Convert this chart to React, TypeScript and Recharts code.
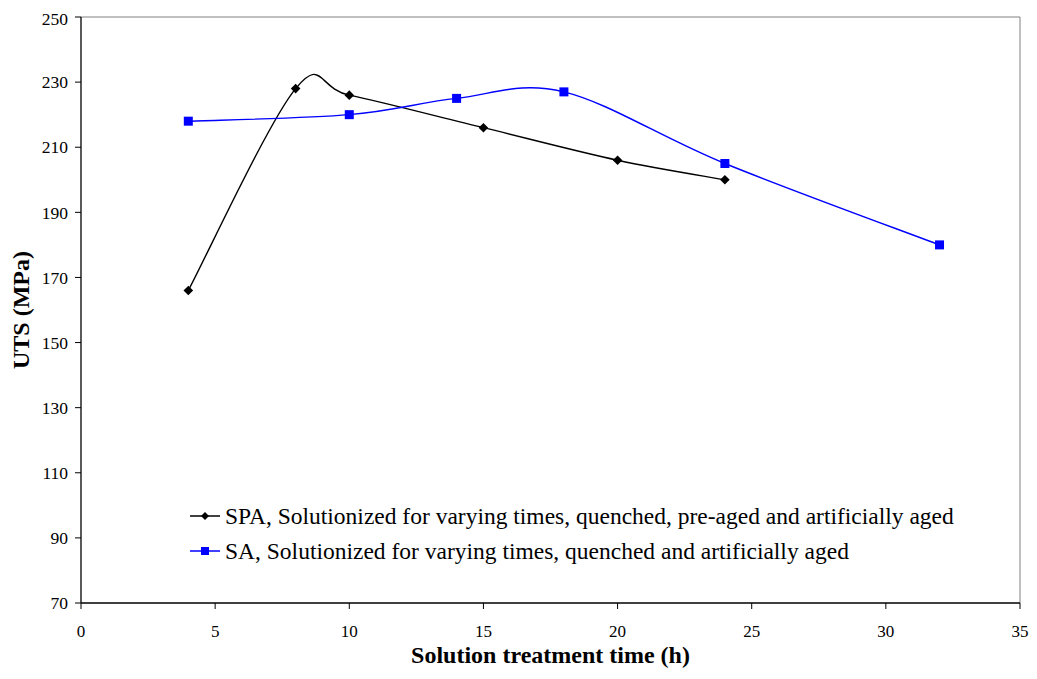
import React from 'react';
import { LineChart, Line, XAxis, YAxis, ReferenceLine, Legend } from 'recharts';

const spaTimes = [4, 8, 10, 15, 20, 24];
const spaUTS = [166, 228, 226, 216, 206, 200];
const saTimes = [4, 10, 14, 18, 24, 32];
const saUTS = [218, 220, 225, 227, 205, 180];
const xTicks = [0, 5, 10, 15, 20, 25, 30, 35];
const yTicks = [70, 90, 110, 130, 150, 170, 190, 210, 230, 250];
const spaName = 'SPA, Solutionized for varying times, quenched, pre-aged and artificially aged';
const saName = 'SA, Solutionized for varying times, quenched and artificially aged';

const spaData = spaTimes.map((t, i) => ({ x: t, y: spaUTS[i] }));
const saData = saTimes.map((t, i) => ({ x: t, y: saUTS[i] }));

const FONT = '"Liberation Serif", "Times New Roman", serif';

// Excel-like smoothing (Catmull-Rom style Bezier in pixel space)
function excelCurve(context: any) {
  let pts: number[][] = [];
  return {
    areaStart() {},
    areaEnd() {},
    lineStart() {
      pts = [];
    },
    point(x: number, y: number) {
      pts.push([+x, +y]);
    },
    lineEnd() {
      if (!pts.length) return;
      context.moveTo(pts[0][0], pts[0][1]);
      for (let i = 0; i < pts.length - 1; i++) {
        const p0 = pts[i - 1] || pts[i];
        const p1 = pts[i];
        const p2 = pts[i + 1];
        const p3 = pts[i + 2] || p2;
        const c1x = p1[0] + (p2[0] - p0[0]) / 6;
        const c1y = p1[1] + (p2[1] - p0[1]) / 6;
        const c2x = p2[0] - (p3[0] - p1[0]) / 6;
        const c2y = p2[1] - (p3[1] - p1[1]) / 6;
        context.bezierCurveTo(c1x, c1y, c2x, c2y, p2[0], p2[1]);
      }
    },
  };
}

const Diamond = (props: any) => {
  const { cx, cy, index } = props;
  if (cx == null || cy == null) return <g key={index} />;
  const r = 4.8;
  return (
    <path
      key={index}
      d={`M${cx},${cy - r}L${cx + r},${cy}L${cx},${cy + r}L${cx - r},${cy}Z`}
      fill="#000"
      stroke="none"
    />
  );
};

const Square = (props: any) => {
  const { cx, cy, index } = props;
  if (cx == null || cy == null) return <g key={index} />;
  const s = 4.5;
  return <rect key={index} x={cx - s} y={cy - s} width={2 * s} height={2 * s} fill="#0000FF" stroke="none" />;
};

const LegendContent = () => {
  const items = [
    { name: spaName, color: '#000', shape: 'diamond' },
    { name: saName, color: '#0000FF', shape: 'square' },
  ];
  return (
    <div style={{ fontFamily: FONT, fontSize: 23.5, color: '#000' }}>
      {items.map((it) => (
        <div key={it.name} style={{ display: 'flex', alignItems: 'center', height: 35, whiteSpace: 'nowrap' }}>
          <svg width={30} height={12} style={{ marginRight: 5 }}>
            <line x1={0} y1={6} x2={30} y2={6} stroke={it.color} strokeWidth={1.5} />
            {it.shape === 'diamond' ? (
              <path d="M15,2L19,6L15,10L11,6Z" fill={it.color} />
            ) : (
              <rect x={11} y={2} width={8} height={8} fill={it.color} />
            )}
          </svg>
          <span>{it.name}</span>
        </div>
      ))}
    </div>
  );
};

export default function App() {
  return (
    <div style={{ width: 1021, height: 663, position: 'relative' }}>
      <LineChart width={1021} height={663} margin={{ top: 9, right: 9, left: 13, bottom: 8 }}>
        <XAxis
          type="number"
          dataKey="x"
          domain={[0, 35]}
          ticks={xTicks}
          allowDataOverflow
          height={60}
          tickSize={6}
          tickMargin={16}
          stroke="#000"
          axisLine={{ stroke: '#000', strokeWidth: 1.3 }}
          tickLine={{ stroke: '#000' }}
          tick={{ fill: '#000', fontFamily: FONT, fontSize: 17 }}
          label={{
            value: 'Solution treatment time (h)',
            position: 'insideBottom',
            offset: 0,
            style: { fontFamily: FONT, fontSize: 24, fontWeight: 'bold', fill: '#000' },
          }}
        />
        <YAxis
          type="number"
          domain={[70, 250]}
          ticks={yTicks}
          allowDataOverflow
          width={60}
          tickSize={6}
          tickMargin={7}
          stroke="#000"
          axisLine={{ stroke: '#000', strokeWidth: 1.3 }}
          tickLine={{ stroke: '#000' }}
          tick={{ fill: '#000', fontFamily: FONT, fontSize: 17.5 }}
          label={{
            value: 'UTS (MPa)',
            angle: -90,
            position: 'insideLeft',
            offset: -1,
            style: { fontFamily: FONT, fontSize: 24, fontWeight: 'bold', fill: '#000', textAnchor: 'middle' },
          }}
        />
        <ReferenceLine y={250} stroke="#808080" strokeWidth={1} />
        <ReferenceLine x={35} stroke="#808080" strokeWidth={1} />
        <Line
          data={spaData}
          dataKey="y"
          name={spaName}
          type={excelCurve as any}
          stroke="#000"
          strokeWidth={1.4}
          dot={Diamond}
          activeDot={false}
          isAnimationActive={false}
        />
        <Line
          data={saData}
          dataKey="y"
          name={saName}
          type={excelCurve as any}
          stroke="#0000FF"
          strokeWidth={1.4}
          dot={Square}
          activeDot={false}
          isAnimationActive={false}
        />
        <Legend
          layout="horizontal"
          verticalAlign="middle"
          align="center"
          content={<LegendContent />}
          wrapperStyle={{ position: 'absolute', left: 182, top: 490.5, width: 'auto' }}
        />
      </LineChart>
    </div>
  );
}
